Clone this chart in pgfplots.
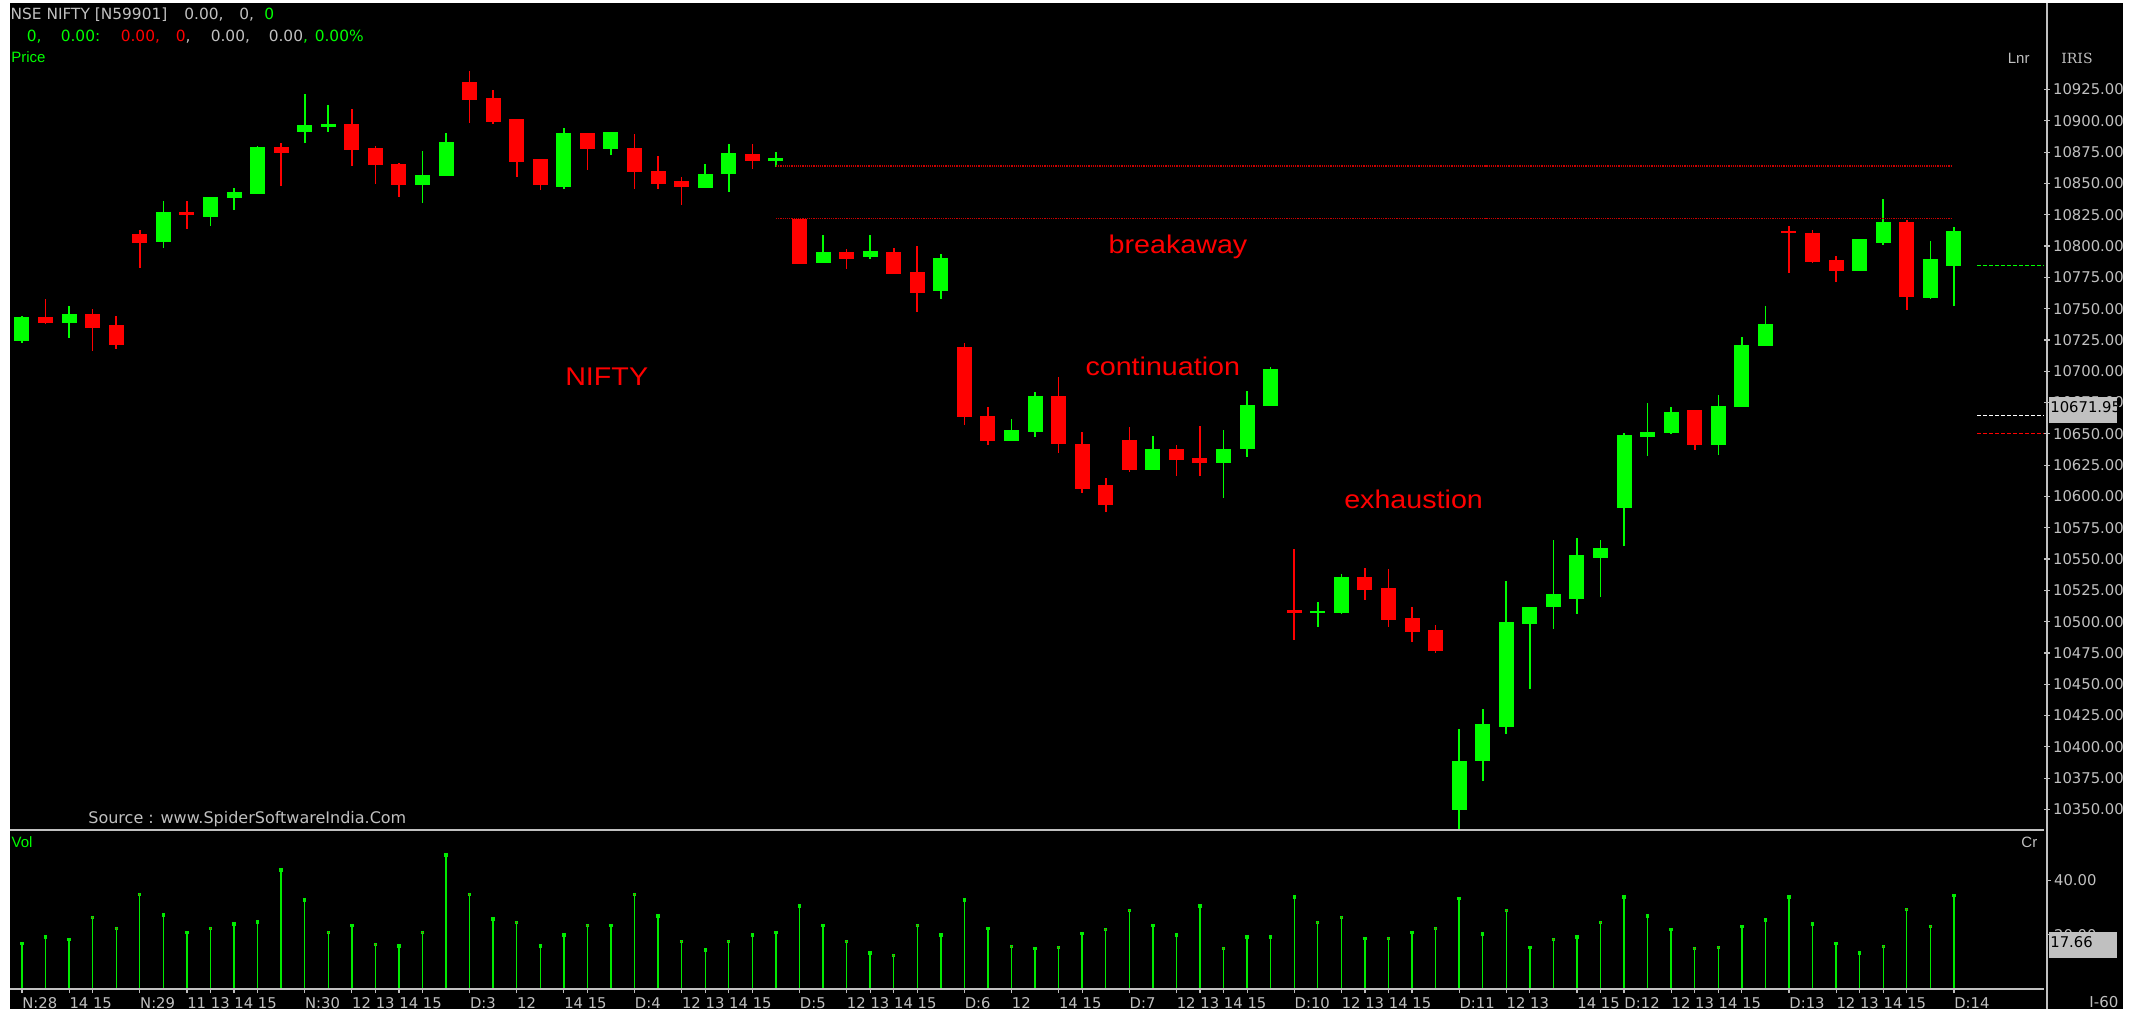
\documentclass[border=0pt]{standalone}
\usepackage{pgfplots}
\pgfplotsset{compat=1.18}
\usepackage{pgfplotstable}
\usepackage{fontspec}
\setmainfont{DejaVu Sans}
\newfontfamily\arialf{Liberation Sans}
\newfontfamily\serf{DejaVu Serif}
\definecolor{cgreen}{RGB}{0,255,0}
\definecolor{cred}{RGB}{255,0,0}
\definecolor{cgray}{RGB}{192,192,192}
\definecolor{cdred}{RGB}{200,0,0}
\definecolor{vgreen}{RGB}{0,235,0}

% rising candles: index, open, high, low, close
\pgfplotstableread{
i o h l c
0 10724.3 10744.3 10722.7 10743.0
2 10738.5 10752.1 10727.0 10745.7
6 10803.4 10835.7 10798.6 10827.1
8 10823.4 10839.1 10816.2 10839.1
9 10838.6 10846.3 10829.0 10843.1
10 10841.8 10880.1 10841.8 10879.1
12 10891.3 10921.4 10882.5 10896.6
13 10895.3 10912.6 10891.3 10897.4
17 10848.7 10875.9 10834.6 10856.7
18 10856.2 10890.2 10856.2 10883.3
23 10847.1 10894.2 10845.5 10890.2
25 10877.7 10891.1 10872.7 10891.1
29 10846.6 10866.0 10846.6 10857.5
30 10857.7 10881.4 10843.4 10874.3
32 10868.3 10874.8 10863.3 10870.3
34 10786.6 10808.7 10786.6 10795.2
36 10791.4 10808.7 10789.8 10796.0
39 10764.3 10793.3 10757.4 10790.4
42 10644.2 10661.7 10644.2 10652.9
43 10651.3 10683.3 10647.3 10680.1
48 10621.0 10648.7 10621.0 10637.8
51 10626.6 10652.9 10598.6 10637.8
52 10637.8 10684.6 10631.4 10672.9
53 10672.1 10703.8 10672.1 10701.7
55 10506.8 10515.8 10495.5 10508.8
56 10507.0 10538.4 10506.0 10535.5
61 10349.6 10414.0 10333.4 10388.5
62 10388.7 10430.3 10372.5 10418.0
63 10415.9 10532.9 10410.6 10499.5
64 10498.4 10511.7 10446.3 10511.7
65 10512.0 10565.0 10494.4 10522.1
66 10518.3 10567.1 10506.4 10553.2
67 10551.1 10565.0 10519.4 10558.8
68 10591.0 10650.6 10560.7 10649.0
69 10647.7 10674.6 10632.5 10651.4
70 10650.6 10671.4 10649.8 10667.4
72 10641.1 10681.3 10633.3 10672.2
73 10671.4 10727.0 10671.4 10720.9
74 10720.3 10752.0 10720.3 10737.6
78 10780.3 10805.6 10780.3 10805.6
79 10802.6 10837.5 10801.0 10819.1
81 10758.7 10804.0 10757.4 10789.6
82 10784.3 10815.1 10752.0 10811.9
}\up

% falling candles: index, open, high, low, close
\pgfplotstableread{
i o h l c
1 10743.3 10757.4 10737.7 10738.5
3 10745.7 10749.4 10716.4 10734.7
4 10736.9 10744.3 10718.2 10720.9
5 10809.6 10812.8 10782.4 10802.6
7 10827.1 10835.7 10813.8 10825.0
11 10879.1 10882.0 10847.9 10874.5
14 10897.4 10909.4 10864.2 10877.0
15 10878.3 10879.9 10849.8 10864.7
16 10865.5 10866.6 10839.1 10848.7
19 10931.0 10940.1 10898.8 10916.6
20 10918.2 10924.6 10897.4 10899.3
21 10901.4 10901.4 10855.1 10867.3
22 10869.5 10869.5 10844.5 10848.7
24 10890.2 10890.2 10860.7 10877.7
26 10878.3 10890.0 10845.5 10859.4
27 10859.9 10871.6 10845.5 10849.8
28 10851.9 10855.1 10832.5 10847.4
31 10873.5 10881.4 10861.5 10868.1
33 10821.5 10821.5 10785.8 10785.8
35 10795.2 10797.6 10781.6 10789.8
37 10795.2 10798.6 10777.9 10777.9
38 10779.2 10800.0 10747.8 10762.7
40 10719.3 10722.4 10657.2 10663.3
41 10664.1 10671.3 10641.0 10644.2
44 10680.1 10695.3 10634.6 10641.8
45 10641.8 10651.9 10602.9 10605.8
46 10609.0 10614.9 10587.7 10593.0
47 10645.0 10655.3 10619.4 10621.0
49 10637.8 10641.0 10616.2 10629.0
50 10630.6 10656.1 10616.2 10626.6
54 10509.1 10558.4 10485.7 10507.0
57 10535.5 10543.2 10517.4 10525.4
58 10526.9 10541.9 10495.7 10501.6
59 10502.9 10511.7 10483.7 10492.0
60 10493.1 10497.6 10475.0 10476.3
71 10669.0 10669.0 10636.8 10641.1
75 10811.9 10815.9 10778.1 10810.1
76 10810.3 10812.7 10786.2 10787.2
77 10788.8 10792.0 10771.5 10780.3
80 10819.1 10821.3 10748.8 10759.5
}\down

\pgfplotstableread{
i v
0 16.8
1 19.2
2 18.3
3 26.2
4 22.3
5 34.8
6 27.2
7 20.8
8 22.3
9 23.9
10 24.7
11 43.8
12 32.7
13 20.8
14 23.3
15 16.4
16 15.8
17 20.8
18 49.3
19 34.8
20 25.7
21 24.4
22 15.8
23 19.9
24 23.3
25 23.3
26 34.8
27 26.8
28 17.4
29 14.3
30 17.4
31 19.9
32 20.8
33 30.5
34 23.3
35 17.4
36 13.3
37 12.4
38 23.3
39 19.9
40 32.7
41 22.3
42 15.6
43 15.0
44 15.3
45 20.5
46 21.9
47 28.8
48 23.4
49 19.9
50 30.5
51 15.0
52 19.2
53 19.2
54 33.9
55 24.4
56 26.4
57 18.6
58 18.6
59 20.8
60 22.3
61 33.3
62 20.2
63 28.8
64 15.3
65 18.3
66 19.2
67 24.4
68 33.9
69 26.8
70 21.9
71 15.0
72 15.3
73 22.9
74 25.4
75 33.9
76 23.9
77 16.8
78 13.3
79 15.6
80 29.3
81 22.9
82 34.3
}\vol

\pgfplotsset{
  chart/.style={
    scale only axis, width=1018.5bp, xmin=-0.509, xmax=85.95,
    axis line style={draw=none},
    tick style={draw=cgray, line width=0.6bp},
    ytick pos=right, yticklabel pos=right,
    scaled y ticks=false,
    /pgf/number format/assume math mode=true,
    yticklabel={\pgfmathprintnumber[fixed,fixed zerofill,precision=2,1000 sep={}]{\tick}},
    yticklabel style={font=\fontsize{7.4bp}{8bp}\selectfont, text=cgray, anchor=west, inner sep=0pt, xshift=1.4bp},
  },
  wick/.style={draw=none, mark=none, forget plot,
    error bars/.cd, y dir=both, y explicit, error mark=none,
    error bar style={draw=#1, solid, line width=0.8bp}},
  body/.style={draw=none, mark=none, forget plot,
    error bars/.cd, y dir=both, y explicit, error mark=none,
    error bar style={draw=#1, solid, line width=7.5bp}},
}

\begin{document}
\begin{tikzpicture}
\useasboundingbox (0,0) rectangle (1065.5bp,504.5bp);
\fill[white] (0,0) rectangle (1065.5bp,504.5bp);
\fill[black] (5bp,0) rectangle (1061.5bp,503bp);

% price panel
\begin{axis}[chart, at={(5bp,89.5bp)}, anchor=south west, height=413.5bp,
  ymin=10333.6, ymax=10994.1, ytick={10350,10375,...,10925}, xtick=\empty,
  tick align=center, major tick length=3bp]
\addplot[wick=cgreen] table[x=i, y expr={(\thisrow{h}+\thisrow{l})/2}, y error expr={(\thisrow{h}-\thisrow{l})/2}] {\up};
\addplot[wick=cred] table[x=i, y expr={(\thisrow{h}+\thisrow{l})/2}, y error expr={(\thisrow{h}-\thisrow{l})/2}] {\down};
\addplot[body=cgreen] table[x=i, y expr={(\thisrow{o}+\thisrow{c})/2}, y error expr={abs(\thisrow{c}-\thisrow{o})/2}] {\up};
\addplot[body=cred] table[x=i, y expr={(\thisrow{o}+\thisrow{c})/2}, y error expr={abs(\thisrow{c}-\thisrow{o})/2}] {\down};
% resistance lines
\addplot[cdred, line width=0.7bp, dash pattern=on 0.6bp off 0.5bp] coordinates {(32,10863.9) (81.92,10863.9)};
\addplot[cdred, line width=0.7bp, dash pattern=on 0.6bp off 0.5bp] coordinates {(32,10821.8) (81.92,10821.8)};
% right-side markers
\addplot[cgreen, line width=0.6bp, dash pattern=on 2bp off 1bp] coordinates {(82.98,10784.2) (85.82,10784.2)};
\addplot[white, line width=0.6bp, dash pattern=on 2bp off 1bp] coordinates {(82.98,10664.5) (85.82,10664.5)};
\addplot[cred, line width=0.6bp, dash pattern=on 2bp off 1bp] coordinates {(82.98,10650.4) (85.82,10650.4)};
\end{axis}

% volume panel
\begin{axis}[chart, at={(5bp,10bp)}, anchor=south west, height=79.5bp,
  ymin=0, ymax=58.5, ytick={20,40}, tick align=outside, major tick length=2bp,
  xtick={0,2,3,5,7,8,9,10,12,14,15,16,17,19,21,23,24,26,28,29,30,31,33,35,36,37,38,40,42,44,45,47,49,50,51,52,54,56,57,58,59,61,63,64,66,67,68,70,71,72,73,75,77,78,79,80,82},
  xticklabels={N:28,14,15,N:29,11,13,14,15,N:30,12,13,14,15,D:3,12,14,15,D:4,12,13,14,15,D:5,12,13,14,15,D:6,12,14,15,D:7,12,13,14,15,D:10,12,13,14,15,D:11,12,13,14,15,D:12,12,13,14,15,D:13,12,13,14,15,D:14},
  xtick pos=left, xticklabel pos=left,
  xticklabel style={font=\fontsize{7.4bp}{8bp}\selectfont, text=cgray, anchor=north west, inner sep=0pt, yshift=-2.2bp}]
\addplot[ycomb, vgreen, line width=0.7bp, mark=square*, mark size=0.5bp, mark options={fill=cred, draw=none}] table[x=i, y=v] {\vol};
\end{axis}

% frame lines
\draw[cgray, line width=0.7bp] (1023.5bp,0) -- (1023.5bp,503bp);
\draw[cgray, line width=1bp] (5bp,89.5bp) -- (1022bp,89.5bp);
\draw[cgray, line width=1bp] (5bp,10bp) -- (1022bp,10bp);

% value boxes
\fill[cgray] (1024.5bp,293.15bp) rectangle (1058.35bp,305.85bp);
\node[anchor=west, inner sep=0pt, font=\fontsize{7.4bp}{8bp}\selectfont, text=black] at (1025bp,301.15bp) {10671.95};
\fill[cgray] (1024.5bp,25.65bp) rectangle (1058.35bp,38.5bp);
\node[anchor=west, inner sep=0pt, font=\fontsize{7.4bp}{8bp}\selectfont, text=black] at (1025bp,33.65bp) {17.66};

% header
\begin{scope}[every node/.style={anchor=base west, inner sep=0pt, font=\fontsize{7.7bp}{9bp}\selectfont}]
\node[text=cgray] at (5.1bp,494.5bp) {NSE NIFTY [N59901]};
\node[text=cgray] at (92bp,494.5bp) {0.00,};
\node[text=cgray] at (119.5bp,494.5bp) {0,};
\node[text=cgreen] at (132bp,494.5bp) {0};
\node[text=cgreen] at (13.2bp,483.6bp) {0,};
\node[text=cgreen] at (30.2bp,483.6bp) {0.00:};
\node[text=cred] at (60.2bp,483.6bp) {0.00,};
\node[text=cred] at (87.7bp,483.6bp) {0\textcolor{cgray}{,}};
\node[text=cgray] at (105.2bp,483.6bp) {0.00,};
\node[text=cgray] at (134.2bp,483.6bp) {0.00\textcolor{cgreen}{,}};
\node[text=cgreen] at (157.2bp,483.6bp) {0.00\%};
\end{scope}
\node[anchor=base west, inner sep=0pt, font=\arialf\fontsize{7.5bp}{9bp}\selectfont, text=cgreen] at (5.5bp,473bp) {Price};
\node[anchor=base west, inner sep=0pt, font=\arialf\fontsize{7.5bp}{9bp}\selectfont, text=cgreen] at (5.6bp,80.5bp) {Vol};
\node[anchor=base west, inner sep=0pt, font=\fontsize{8bp}{9bp}\selectfont, text=cgray] at (44bp,92.85bp) {Source : www.SpiderSoftwareIndia.Com};
\node[anchor=west, inner sep=0pt, font=\arialf\fontsize{7.5bp}{9bp}\selectfont, text=cgray] at (1003.7bp,475.5bp) {Lnr};
\node[anchor=west, inner sep=0pt, font=\serf\fontsize{7bp}{9bp}\selectfont, text=cgray] at (1030.5bp,475.5bp) {IRIS};
\node[anchor=west, inner sep=0pt, font=\arialf\fontsize{7.5bp}{9bp}\selectfont, text=cgray] at (1010.5bp,83.5bp) {Cr};
\node[anchor=west, inner sep=0pt, font=\fontsize{7.5bp}{9bp}\selectfont, text=cgray] at (1044.5bp,3.65bp) {I-60};

% annotations
\begin{scope}[every node/.style={anchor=base, inner sep=0pt, xscale=1.12, text=cred, font=\arialf\fontsize{12.8bp}{14bp}\selectfont}]
\node at (303.35bp,311.5bp) {NIFTY};
\node at (589bp,377.85bp) {breakaway};
\node at (581.4bp,316.5bp) {continuation};
\node at (706.8bp,250.35bp) {exhaustion};
\end{scope}
\end{tikzpicture}
\end{document}
